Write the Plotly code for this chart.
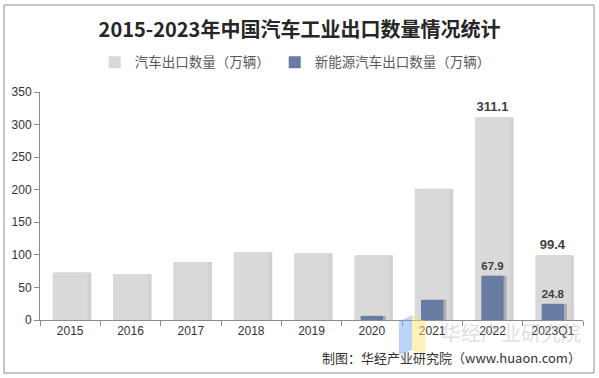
import plotly.graph_objects as go

categories = ["2015", "2016", "2017", "2018", "2019", "2020", "2021", "2022", "2023Q1"]
total_exports = [72.8, 70.8, 89.1, 104.1, 102.4, 99.5, 201.5, 311.1, 99.4]
nev_exports = [None, None, None, None, None, 6.3, 31.0, 67.9, 24.8]
total_labels = ["", "", "", "", "", "", "", "311.1", "99.4"]
nev_labels = ["", "", "", "", "", "", "", "67.9", "24.8"]

name_total = "汽车出口数量（万辆）"
name_nev = "新能源汽车出口数量（万辆）"

font_cjk = "Noto Sans CJK SC"
font_num = "Liberation Sans, Arial"

fig = go.Figure()

# subtle right-side shadow for the grey bars
fig.add_trace(go.Bar(
    x=categories, y=total_exports, width=0.58, offset=-0.29 + 0.06,
    marker=dict(color="rgba(0,0,0,0.18)", line=dict(width=0)),
    showlegend=False, hoverinfo="skip"))
fig.add_trace(go.Bar(
    x=categories, y=total_exports, name=name_total, width=0.58, offset=-0.29,
    marker=dict(color="#d9d9d9", line=dict(width=0)),
    text=total_labels, textposition="outside", cliponaxis=False,
    textfont=dict(family=font_num, size=13, color="#404040", weight="bold")))
fig.add_trace(go.Bar(
    x=categories, y=nev_exports, width=0.37, offset=-0.185 + 0.05,
    marker=dict(color="rgba(0,0,0,0.2)", line=dict(width=0)),
    showlegend=False, hoverinfo="skip"))
fig.add_trace(go.Bar(
    x=categories, y=nev_exports, name=name_nev, width=0.37, offset=-0.185,
    marker=dict(color="#687ca3", line=dict(width=0)),
    text=nev_labels, textposition="outside", cliponaxis=False,
    textfont=dict(family=font_num, size=13, color="#404040", weight="bold")))

fig.update_layout(
    width=599, height=378,
    barmode="overlay",
    paper_bgcolor="white", plot_bgcolor="white",
    margin=dict(l=40, r=16, t=92, b=58, autoexpand=False),
    title=dict(text="<b>2015-2023年中国汽车工业出口数量情况统计</b>",
               x=0.5, xanchor="center", y=0.92, yanchor="middle",
               font=dict(family=font_cjk, size=20, color="#262626")),
    legend=dict(orientation="h", x=0.47, xanchor="center", y=1.13, yanchor="middle",
                font=dict(family=font_cjk, size=13.5, color="#595959"),
                itemwidth=30, traceorder="normal", bgcolor="rgba(0,0,0,0)"),
    xaxis=dict(showline=True, linecolor="#8c8c8c", linewidth=1,
               ticks="outside", ticklen=5, tickcolor="#8c8c8c",
               tickson="boundaries", automargin=False,
               tickfont=dict(family=font_num, size=12, color="#333333"),
               showgrid=False),
    yaxis=dict(range=[0, 350], dtick=50, showline=True, linecolor="#8c8c8c",
               linewidth=1, ticks="outside", ticklen=5, tickcolor="#8c8c8c",
               automargin=False,
               tickfont=dict(family=font_num, size=12, color="#333333"),
               showgrid=False, zeroline=False),
    showlegend=True,
)

# outer border
fig.add_shape(type="rect", xref="paper", yref="paper",
              x0=-36/543, x1=1 + 11/543, y0=-53/228, y1=1 + 87/228,
              line=dict(color="#8c8c8c", width=1), layer="above")

# watermark logo
fig.add_shape(type="path", xref="paper", yref="paper",
              path="M 0.661 -0.005 L 0.685 0.02 L 0.685 -0.13 L 0.661 -0.155 Z",
              fillcolor="rgba(120,170,240,0.5)", line=dict(width=0), layer="above")
fig.add_shape(type="path", xref="paper", yref="paper",
              path="M 0.685 0.02 L 0.71 -0.005 L 0.71 -0.155 L 0.685 -0.13 Z",
              fillcolor="rgba(250,225,120,0.5)", line=dict(width=0), layer="above")
fig.add_annotation(text="华经产业研究院", xref="paper", yref="paper",
                   x=1.0, y=-0.055, xanchor="right", yanchor="middle", showarrow=False,
                   font=dict(family=font_cjk, size=20, color="rgba(170,170,170,0.4)"))

# source caption
fig.add_annotation(text="制图：华经产业研究院（www.huaon.com）", xref="paper", yref="paper",
                   x=1.0, y=-0.165, xanchor="right", yanchor="middle", showarrow=False,
                   font=dict(family=font_cjk, size=13, color="#333333"))

fig.write_html("out.html", config={"displayModeBar": False},
               post_script="document.body.style.margin='0';")
